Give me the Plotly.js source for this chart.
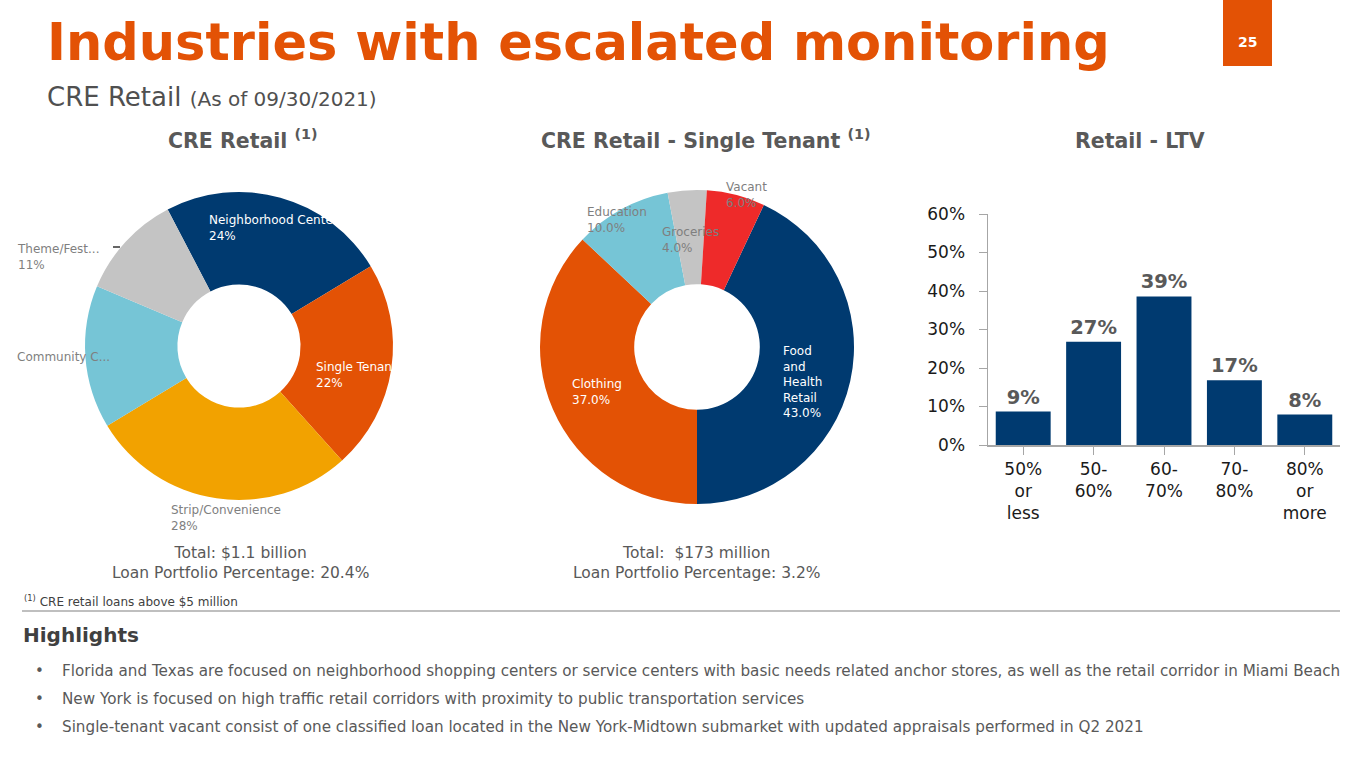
<!DOCTYPE html>
<html>
<head>
<meta charset="utf-8">
<script src="https://cdn.plot.ly/plotly-3.0.1.min.js"></script>
<style>html,body{margin:0;padding:0;background:#fff;}#chart{width:1365px;height:768px;}</style>
</head>
<body>
<div id="chart"></div>
<script>
// ---- Data ----
const retailLabels = ["Neighborhood Center", "Single Tenant", "Strip/Convenience", "Community Center", "Theme/Festival"];
const retailShort = ["Neighborhood Center", "Single Tenant", "Strip/Convenience", "Community C...", "Theme/Fest..."];
const retailValues = [24, 22, 28, 15, 11];
const retailShowPct = [true, true, true, false, true];

const tenantLabels = ["Food<br>and<br>Health<br>Retail", "Clothing", "Education", "Groceries", "Vacant"];
const tenantValues = [43.0, 37.0, 10.0, 4.0, 6.0];

const ltvCategories = ["50%<br>or<br>less", "50-<br>60%", "60-<br>70%", "70-<br>80%", "80%<br>or<br>more"];
const ltvValues = [8.7, 26.8, 38.6, 16.8, 7.9];
const ltvTicks = [0, 10, 20, 30, 40, 50, 60];

const highlights = [
  "Florida and Texas are focused on neighborhood shopping centers or service centers with basic needs related anchor stores, as well as the retail corridor in Miami Beach",
  "New York is focused on high traffic retail corridors with proximity to public transportation services",
  "Single-tenant vacant consist of one classified loan located in the New York-Midtown submarket with updated appraisals performed in Q2 2021"
];

// ---- Styles ----
const W = 1365, H = 768;
const fx = px => px / W;
const fy = py => 1 - py / H;
const NAVY = "#003A70", ORANGE = "#E35205", GOLD = "#F2A200", LBLUE = "#76C5D6", LGRAY = "#C4C4C4", RED = "#EE2A2A";
const TXT = "#595959";
const FONT = "DejaVu Sans, Verdana, sans-serif";

const traces = [
  {
    type: "pie", labels: retailLabels, values: retailValues, sort: false, direction: "clockwise",
    rotation: -27.6, hole: 0.4, textinfo: "none", hoverinfo: "label+percent",
    marker: {colors: [NAVY, ORANGE, GOLD, LBLUE, LGRAY], line: {width: 0}},
    domain: {x: [fx(85), fx(393)], y: [fy(500), fy(192)]}, showlegend: false
  },
  {
    type: "pie", labels: tenantLabels, values: tenantValues, sort: false, direction: "clockwise",
    rotation: 25.2, hole: 0.4, textinfo: "none", hoverinfo: "label+percent",
    marker: {colors: [NAVY, ORANGE, LBLUE, LGRAY, RED], line: {width: 0}},
    domain: {x: [fx(540), fx(854)], y: [fy(504), fy(190)]}, showlegend: false
  },
  {
    type: "bar", x: ltvCategories, y: ltvValues, marker: {color: NAVY},
    texttemplate: "%{y:.0f}%", textposition: "outside", cliponaxis: false,
    textfont: {family: FONT, size: 19.5, color: TXT, weight: "bold"},
    xaxis: "x", yaxis: "y", showlegend: false, hoverinfo: "x+y"
  }
];

const ann = [];
function A(text, px, py, o) {
  o = o || {};
  ann.push(Object.assign({
    text: text, xref: "paper", yref: "paper", x: fx(px), y: fy(py),
    xanchor: o.xa || "left", yanchor: o.ya || "middle", showarrow: false, align: o.align || "left",
    font: {family: o.family || FONT, size: o.size || 12, color: o.color || TXT, weight: o.weight || "normal"}
  }, o.extra || {}));
}

// Titles
A("Industries with escalated monitoring", 45, 42, {size: 51, color: ORANGE, weight: "bold"});
A("CRE Retail <span style='font-size:20px'>(As of 09/30/2021)</span>", 45, 97, {size: 26, color: "#505050"});
A("25", 1247, 42, {xa: "center", size: 14, color: "#FFFFFF", weight: "bold"});

// Chart titles
A("CRE Retail <sup>(1)</sup>", 243, 139, {xa: "center", size: 20.5, weight: "bold"});
A("CRE Retail - Single Tenant <sup>(1)</sup>", 705, 139, {xa: "center", size: 20.5, weight: "bold"});
A("Retail - LTV", 1140, 141, {xa: "center", size: 20.5, weight: "bold"});

// Left donut labels
const leftPos = [[207, 228, "#FFFFFF"], [314, 375, "#FFFFFF"], [169, 518, "#7F7F7F"], [15, 357, "#7F7F7F"], [15, 257, "#7F7F7F"]];
retailShort.forEach((l, i) => {
  const t = retailShowPct[i] ? l + "<br>" + retailValues[i] + "%" : l;
  A(t, leftPos[i][0], leftPos[i][1], {size: 12, color: leftPos[i][2]});
});

// Middle donut labels
const midPos = [[781, 382, "#FFFFFF"], [570, 392, "#FFFFFF"], [585, 220, "#7F7F7F"], [660, 240, "#7F7F7F"], [724, 195, "#7F7F7F"]];
tenantLabels.forEach((l, i) => {
  A(l + "<br>" + tenantValues[i].toFixed(1) + "%", midPos[i][0], midPos[i][1], {size: 12, color: midPos[i][2]});
});

// Totals
A("Total: $1.1 billion<br>Loan Portfolio Percentage: 20.4%", 240, 563, {xa: "center", align: "center", size: 15.5});
A("Total:  $173 million<br>Loan Portfolio Percentage: 3.2%", 697, 563, {xa: "center", align: "center", size: 15.5});

// Footnote
A("<sup>(1)</sup> CRE retail loans above $5 million", 22, 601, {size: 12, color: "#404040"});

// Highlights
A("Highlights", 21, 635, {size: 20, weight: "bold", color: "#404040"});
highlights.forEach((h, i) => {
  A("•", 33, 671 + 28 * i, {size: 15, color: TXT});
  A(h, 60, 671 + 28 * i, {size: 15.2, color: TXT});
});

const shapes = [
  {type: "rect", xref: "paper", yref: "paper", x0: fx(1223), x1: fx(1272), y0: fy(66), y1: fy(0), fillcolor: ORANGE, line: {width: 0}},
  {type: "line", xref: "paper", yref: "paper", x0: fx(22), x1: fx(1340), y0: fy(611), y1: fy(611), line: {color: "#BFBFBF", width: 2}},
  {type: "line", xref: "paper", yref: "paper", x0: fx(113), x1: fx(120), y0: fy(247), y1: fy(247), line: {color: "#000000", width: 1.2}}
];

const layout = {
  width: W, height: H, margin: {l: 0, r: 0, t: 0, b: 0},
  paper_bgcolor: "#FFFFFF", plot_bgcolor: "#FFFFFF",
  showlegend: false, bargap: 0.22,
  xaxis: {
    domain: [fx(988), fx(1340)], anchor: "y", type: "category",
    showline: true, linecolor: "#A6A6A6", linewidth: 1.5, ticks: "outside", ticklen: 8, tickcolor: "#A6A6A6",
    tickfont: {family: FONT, size: 17, color: "#1A1A1A"}, showgrid: false, zeroline: false, fixedrange: true
  },
  yaxis: {
    domain: [fy(445), fy(214)], anchor: "x", range: [0, 60], tickvals: ltvTicks, ticktext: ltvTicks.map(v => v + "%"),
    showline: true, linecolor: "#A6A6A6", linewidth: 1.5, ticks: "outside", ticklen: 8, tickcolor: "#A6A6A6",
    ticklabelstandoff: 10,
    tickfont: {family: FONT, size: 17, color: "#1A1A1A"}, showgrid: false, zeroline: false, fixedrange: true
  },
  annotations: ann,
  shapes: shapes,
  font: {family: FONT}
};

Plotly.newPlot("chart", traces, layout, {displayModeBar: false, staticPlot: true});
</script>
</body>
</html>
